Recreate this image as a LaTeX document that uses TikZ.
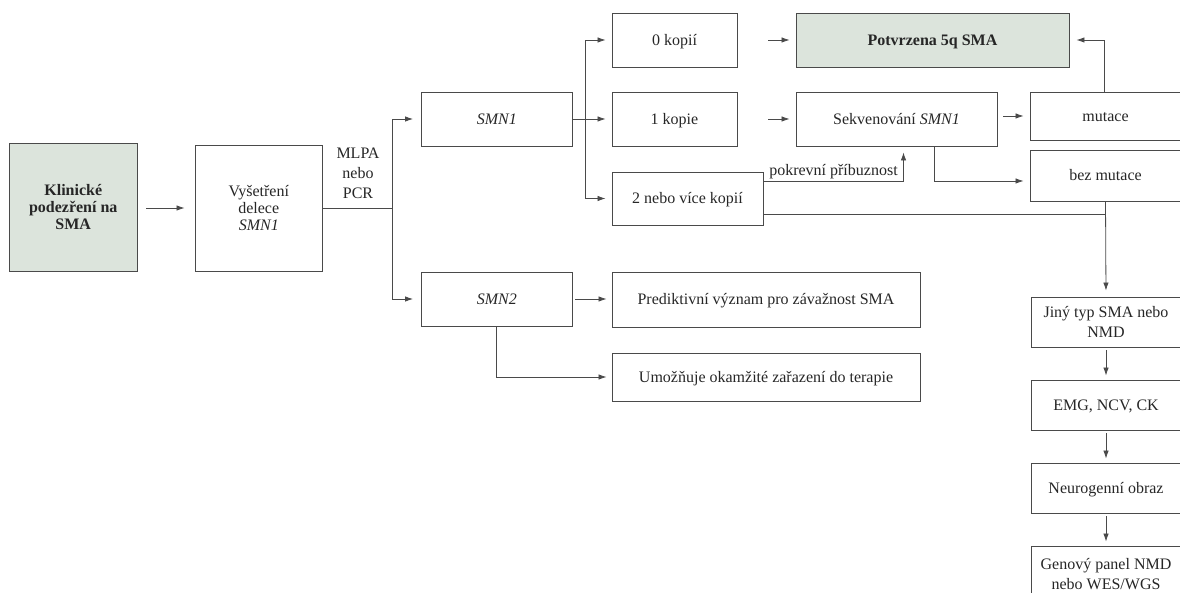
\documentclass[tikz,border=0pt]{standalone}
\usepackage{fontspec}
\setmainfont{Liberation Serif}
\usetikzlibrary{arrows.meta,calc}
\definecolor{boxfill}{HTML}{DCE4DC}
\definecolor{lncol}{HTML}{4A4A4A}
\definecolor{txtcol}{HTML}{262626}
\tikzset{
  box/.style={draw=lncol, line width=0.9pt, text=txtcol, align=center, inner sep=2pt,
              font=\fontsize{16}{20}\selectfont},
  tight/.style={font=\fontsize{16}{17}\selectfont},
  oneline/.style={execute at begin node={\rule[-4pt]{0pt}{18.5pt}}},
  lower/.style={execute at begin node={\rule{0pt}{#1}}},
  shaded/.style={box, fill=boxfill},
  conn/.style={draw=lncol, line width=0.8pt},
  arr/.style={conn, -{Latex[length=8pt,width=5.5pt]}},
  lbl/.style={text=txtcol, align=center, font=\fontsize{16}{20}\selectfont, inner sep=1pt}
}
\begin{document}
\begin{tikzpicture}[x=1pt,y=-1pt]
\useasboundingbox (0,0) rectangle (1180,593);
\clip (0,0) rectangle (1180,593);
% nodes
\node[shaded, tight, lower=18pt, minimum width=127.5pt, minimum height=128pt] (klin) at (73.25,207) {\textbf{Klinické}\\\textbf{podezření na}\\\textbf{SMA}};
\node[box, tight, lower=15pt, minimum width=127.5pt, minimum height=126pt] (vys) at (258.75,208) {Vyšetření\\delece\\\textit{SMN1}};
\node[lbl] (mlpa) at (358,173) {MLPA\\nebo\\PCR};
\node[box, oneline, minimum width=150.5pt, minimum height=54pt] (smn1) at (496.75,119) {\textit{SMN1}};
\node[box, oneline, minimum width=150.5pt, minimum height=54pt] (smn2) at (496.75,299) {\textit{SMN2}};
\node[box, oneline, minimum width=125pt, minimum height=54pt] (k0) at (674.5,40) {0 kopií};
\node[box, oneline, minimum width=125pt, minimum height=54pt] (k1) at (674.5,119) {1 kopie};
\node[box, oneline, minimum width=151pt, minimum height=53pt] (k2) at (687.5,198.5) {2 nebo více kopií};
\node[shaded, oneline, minimum width=273pt, minimum height=54pt] (potv) at (932.5,40) {\textbf{Potvrzena 5q SMA}};
\node[box, oneline, minimum width=201pt, minimum height=54pt] (sekv) at (896.5,119) {Sekvenování \textit{SMN1}};
\node[box, oneline, minimum width=151pt, minimum height=48pt] (mut) at (1105.5,116) {mutace};
\node[box, oneline, minimum width=151pt, minimum height=51pt] (bez) at (1105.5,175.5) {bez mutace};
\node[box, oneline, minimum width=308pt, minimum height=55pt] (pred) at (766,299.5) {Prediktivní význam pro závažnost SMA};
\node[box, oneline, minimum width=308pt, minimum height=48pt] (umoz) at (766,377) {Umožňuje okamžité zařazení do terapie};
\node[box, minimum width=150pt, minimum height=50pt] (jiny) at (1106,322) {Jiný typ SMA nebo\\NMD};
\node[box, oneline, minimum width=150pt, minimum height=50pt] (emg) at (1106,405) {EMG, NCV, CK};
\node[box, oneline, minimum width=150pt, minimum height=50pt] (neuro) at (1106,488) {Neurogenní obraz};
\node[box, minimum width=150pt, minimum height=56pt] (gen) at (1106,574) {Genový panel NMD\\nebo WES/WGS};
% junctions
\coordinate (j1) at (392,208);
\coordinate (j2) at (585,119);
% connectors
\draw[arr, shorten <=9pt, shorten >=10pt] (klin.east |- vys.west) -- (vys.west);
\draw[conn] (vys.east) -- (j1);
\draw[arr, shorten >=8pt] (j1) |- (smn1.west);
\draw[arr, shorten >=8pt] (j1) |- (smn2.west);
\draw[conn] (smn1.east) -- (j2);
\draw[arr, shorten >=6pt] (j2) |- (k0.west);
\draw[arr, shorten >=6pt] (j2) -- (k1.west);
\draw[arr, shorten >=6pt] (j2) |- (k2.west);
\draw[arr, shorten <=31pt, shorten >=6pt] (k0.east) -- (potv.west);
\draw[arr, shorten <=31pt, shorten >=6pt] (k1.east) -- (sekv.west);
\draw[arr, shorten <=6pt, shorten >=6pt] (sekv.east |- mut.west) -- (mut.west);
\draw[arr, shorten >=6pt] ([xshift=37.5pt]sekv.south) |- ([yshift=-5.5pt]bez.west);
\draw[arr, shorten >=6pt] ([yshift=17.5pt]k2.east) -| node[lbl, pos=0.25, anchor=south, yshift=1pt] {pokrevní příbuznost} ([xshift=7pt]sekv.south);
\draw[conn] ([yshift=-15.5pt]k2.east) -- ([yshift=-15.5pt]k2.east -| bez.south);
\draw[arr, shorten >=6pt] (bez.south) -- (jiny.north);
\draw[arr, shorten >=7pt] ([xshift=-1.5pt]mut.north) |- (potv.east);
\draw[arr, shorten <=3pt, shorten >=5pt] (smn2.east) -- (pred.west |- smn2.east);
\draw[arr, shorten >=5pt] (smn2.south) |- (umoz.west);
\draw[arr, shorten <=3pt, shorten >=4pt] (jiny.south) -- (emg.north);
\draw[arr, shorten <=3pt, shorten >=4pt] (emg.south) -- (neuro.north);
\draw[arr, shorten <=3pt, shorten >=4pt] (neuro.south) -- (gen.north);
\end{tikzpicture}
\end{document}
